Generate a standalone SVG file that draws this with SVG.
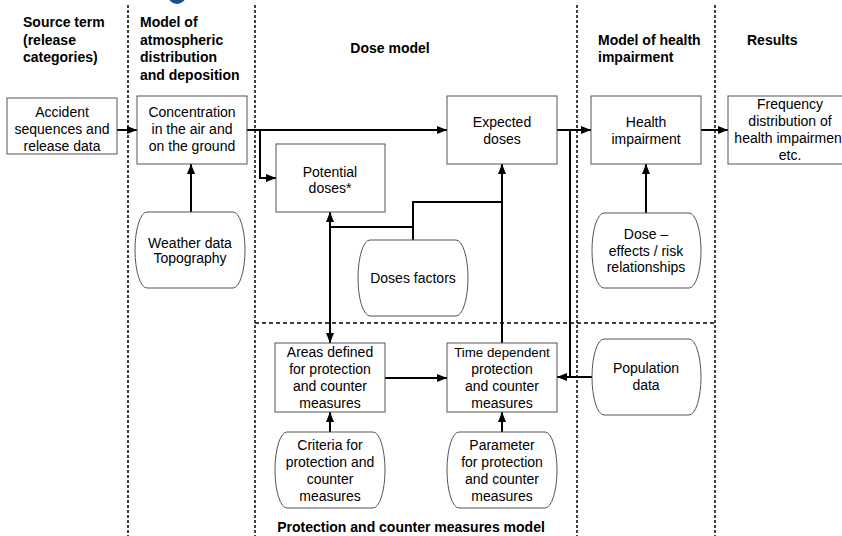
<svg xmlns="http://www.w3.org/2000/svg" width="842" height="536" viewBox="0 0 842 536">
<style>
  text { font-family: "Liberation Sans", Arial, sans-serif; font-size: 14px; fill: #000; }
  .hd { font-weight: bold; }
  .c { text-anchor: middle; }
  .box { fill: #fff; stroke: #555; stroke-width: 1; }
  .div { stroke: #000; stroke-width: 1.5; stroke-dasharray: 3 2; fill: none; }
  .hdiv { stroke: #000; stroke-width: 1.5; stroke-dasharray: 4 3; fill: none; }
  .con { stroke: #000; stroke-width: 2; fill: none; }
</style>
<defs>
  <marker id="arr" markerUnits="userSpaceOnUse" viewBox="0 0 10 8" markerWidth="10" markerHeight="8" refX="10" refY="4" orient="auto-start-reverse">
    <path d="M0,0 L10,4 L0,8 z" fill="#000"/>
  </marker>
</defs>
<rect width="842" height="536" fill="#fff"/>
<ellipse cx="177" cy="-5" rx="9" ry="9" fill="#1a4f8b"/>

<g id="dividers">
  <line class="div" x1="128" y1="5" x2="128" y2="536"/>
  <line class="div" x1="255" y1="5" x2="255" y2="536"/>
  <line class="div" x1="577" y1="5" x2="577" y2="536"/>
  <line class="div" x1="715" y1="5" x2="715" y2="536"/>
  <line class="hdiv" x1="255" y1="323" x2="715" y2="323"/>
</g>

<g id="headers">
  <text class="hd" x="23" y="27">Source term</text>
  <text class="hd" x="23" y="44.5">(release</text>
  <text class="hd" x="23" y="62">categories)</text>
  <text class="hd" x="140" y="27">Model of</text>
  <text class="hd" x="140" y="44.5">atmospheric</text>
  <text class="hd" x="140" y="62">distribution</text>
  <text class="hd" x="140" y="79.5">and deposition</text>
  <text class="hd c" x="390" y="53">Dose model</text>
  <text class="hd" x="598" y="45">Model of health</text>
  <text class="hd" x="598" y="62">impairment</text>
  <text class="hd" x="747" y="45">Results</text>
  <text class="hd c" x="411" y="532">Protection and counter measures model</text>
</g>

<g id="connectors">
  <path class="con" d="M117,130 H137" marker-end="url(#arr)"/>
  <path class="con" d="M247,130 H447" marker-end="url(#arr)"/>
  <path class="con" d="M260,130 V178 H276" marker-end="url(#arr)"/>
  <path class="con" d="M191,212 V164" marker-end="url(#arr)"/>
  <path class="con" d="M557,130 H591" marker-end="url(#arr)"/>
  <path class="con" d="M701,130 H728" marker-end="url(#arr)"/>
  <path class="con" d="M646,213 V164" marker-end="url(#arr)"/>
  <path class="con" d="M592,377 H557" marker-end="url(#arr)"/>
  <path class="con" d="M570,130 V377"/>
  <path class="con" d="M330,212 V343" marker-start="url(#arr)" marker-end="url(#arr)"/>
  <path class="con" d="M413,240 V202 H502"/>
  <path class="con" d="M413,227 H330"/>
  <path class="con" d="M502,343 V164" marker-end="url(#arr)"/>
  <path class="con" d="M385,378 H447" marker-end="url(#arr)"/>
  <path class="con" d="M330,432 V412" marker-end="url(#arr)"/>
  <path class="con" d="M502,432 V412" marker-end="url(#arr)"/>
</g>

<g id="accident">
  <rect class="box" x="7" y="98" width="110" height="56"/>
  <text class="c" x="62" y="117">Accident</text>
  <text class="c" x="62" y="134">sequences and</text>
  <text class="c" x="62" y="151">release data</text>
</g>
<g id="concentration">
  <rect class="box" x="137" y="96" width="110" height="68"/>
  <text class="c" x="192" y="117">Concentration</text>
  <text class="c" x="192" y="134">in the air and</text>
  <text class="c" x="192" y="151">on the ground</text>
</g>
<g id="weather">
  <rect class="box" x="135" y="212" width="110" height="76" rx="12" ry="38"/>
  <text class="c" x="190" y="248">Weather data</text>
  <text class="c" x="190" y="263">Topography</text>
</g>
<g id="potential">
  <rect class="box" x="276" y="144" width="109" height="68"/>
  <text class="c" x="330" y="177">Potential</text>
  <text class="c" x="330" y="193">doses*</text>
</g>
<g id="expected">
  <rect class="box" x="447" y="96" width="110" height="68"/>
  <text class="c" x="502" y="127">Expected</text>
  <text class="c" x="502" y="144">doses</text>
</g>
<g id="dosesfactors">
  <rect class="box" x="358" y="240" width="110" height="76" rx="12" ry="38"/>
  <text class="c" x="413" y="283">Doses factors</text>
</g>
<g id="health">
  <rect class="box" x="591" y="96" width="110" height="68"/>
  <text class="c" x="646" y="127">Health</text>
  <text class="c" x="646" y="144">impairment</text>
</g>
<g id="doseeffects">
  <rect class="box" x="592" y="213" width="109" height="75" rx="12" ry="37.5"/>
  <text class="c" x="646" y="239">Dose –</text>
  <text class="c" x="646" y="256">effects / risk</text>
  <text class="c" x="646" y="272">relationships</text>
</g>
<g id="results">
  <rect class="box" x="728" y="96" width="124" height="68"/>
  <text class="c" x="790" y="109">Frequency</text>
  <text class="c" x="790" y="126">distribution of</text>
  <text class="c" x="790" y="143">health impairment</text>
  <text class="c" x="790" y="160">etc.</text>
</g>
<g id="areas">
  <rect class="box" x="275" y="343" width="110" height="69"/>
  <text class="c" x="330" y="357">Areas defined</text>
  <text class="c" x="330" y="374">for protection</text>
  <text class="c" x="330" y="391">and counter</text>
  <text class="c" x="330" y="408">measures</text>
</g>
<g id="timedependent">
  <rect class="box" x="447" y="343" width="110" height="69"/>
  <text class="c" x="502" y="357" style="font-size:13.3px">Time dependent</text>
  <text class="c" x="502" y="374">protection</text>
  <text class="c" x="502" y="391">and counter</text>
  <text class="c" x="502" y="408">measures</text>
</g>
<g id="population">
  <rect class="box" x="592" y="339" width="109" height="76" rx="12" ry="38"/>
  <text class="c" x="646" y="373">Population</text>
  <text class="c" x="646" y="390">data</text>
</g>
<g id="criteria">
  <rect class="box" x="275" y="432" width="110" height="76" rx="12" ry="38"/>
  <text class="c" x="330" y="450">Criteria for</text>
  <text class="c" x="330" y="467">protection and</text>
  <text class="c" x="330" y="484">counter</text>
  <text class="c" x="330" y="501">measures</text>
</g>
<g id="parameter">
  <rect class="box" x="447" y="432" width="110" height="76" rx="12" ry="38"/>
  <text class="c" x="502" y="450">Parameter</text>
  <text class="c" x="502" y="467">for protection</text>
  <text class="c" x="502" y="484">and counter</text>
  <text class="c" x="502" y="501">measures</text>
</g>
</svg>
